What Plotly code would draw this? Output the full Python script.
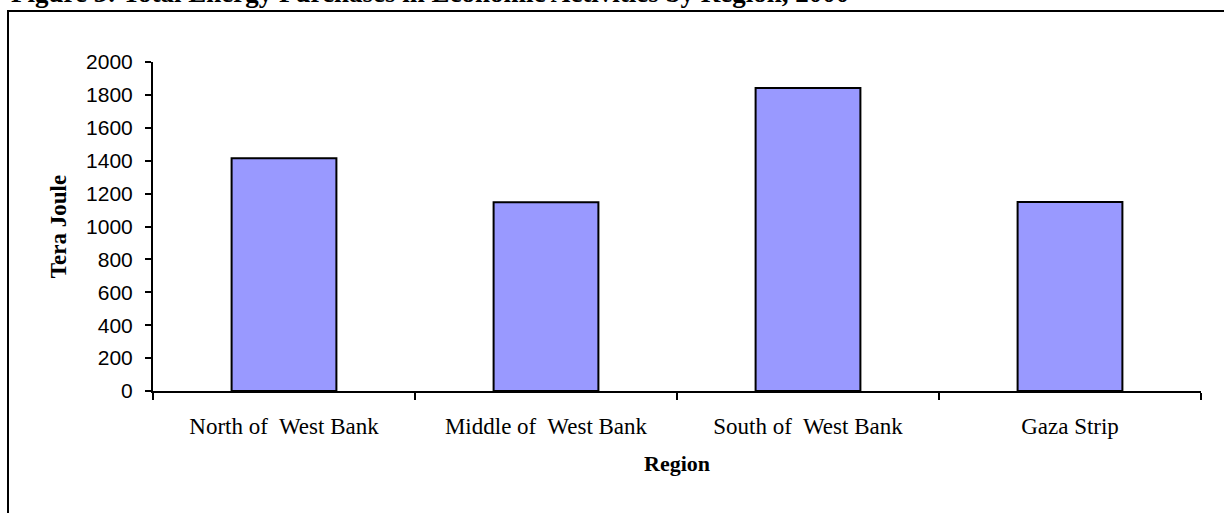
import plotly.graph_objects as go

# Energy purchases by region (Tera Joule)
regions = ["North of  West Bank", "Middle of  West Bank", "South of  West Bank", "Gaza Strip"]
purchases = [1415, 1148, 1842, 1149]
y_ticks = [0, 200, 400, 600, 800, 1000, 1200, 1400, 1600, 1800, 2000]

title_text = "Figure 3: Total Energy Purchases in Economic Activities by Region, 2000"

W, H = 1224, 513
L, R, T, B = 153, 23, 62, 122
pw, ph = W - L - R, H - T - B

def px_x(x):
    return (x - L) / pw

def px_y(y):
    return (H - B - y) / ph

serif = "Liberation Serif, Times New Roman, serif"
sans = "Liberation Sans, Arial, sans-serif"

fig = go.Figure(
    go.Bar(
        x=regions,
        y=purchases,
        width=0.4,
        marker=dict(color="#9999FF", line=dict(color="black", width=2)),
    )
)

fig.update_layout(
    width=W,
    height=H,
    margin=dict(l=L, r=R, t=T, b=B, pad=0),
    paper_bgcolor="white",
    plot_bgcolor="white",
    showlegend=False,
    xaxis=dict(
        showline=True,
        linecolor="black",
        linewidth=2,
        ticks="outside",
        ticklen=7,
        tickwidth=2,
        tickcolor="black",
        tickson="boundaries",
        showgrid=False,
        tickfont=dict(family=serif, size=23, color="black"),
        ticklabelstandoff=13,
        title=dict(
            text="<b>Region</b>",
            font=dict(family=serif, size=22, color="black"),
            standoff=18,
        ),
    ),
    yaxis=dict(
        range=[0, 2000],
        tickvals=y_ticks,
        showline=True,
        linecolor="black",
        linewidth=2,
        ticks="outside",
        ticklen=6,
        tickwidth=2,
        tickcolor="black",
        showgrid=False,
        zeroline=False,
        tickfont=dict(family=sans, size=21, color="black"),
        ticklabelstandoff=8,
        title=dict(
            text="<b>Tera Joule</b>",
            font=dict(family=serif, size=23, color="black"),
            standoff=13,
        ),
    ),
    shapes=[
        # outer frame, running off the right and bottom edges
        dict(
            type="rect",
            xref="paper",
            yref="paper",
            x0=px_x(8),
            x1=px_x(W + 20),
            y0=px_y(H + 20),
            y1=px_y(11),
            line=dict(color="black", width=2),
            fillcolor="rgba(0,0,0,0)",
            layer="below",
        )
    ],
    annotations=[
        dict(
            text="<b>" + title_text + "</b>",
            xref="paper",
            yref="paper",
            x=px_x(9),
            y=px_y(10),
            xanchor="left",
            yanchor="bottom",
            showarrow=False,
            font=dict(family=serif, size=27, color="black"),
        )
    ],
)

fig.write_html("out.html")
